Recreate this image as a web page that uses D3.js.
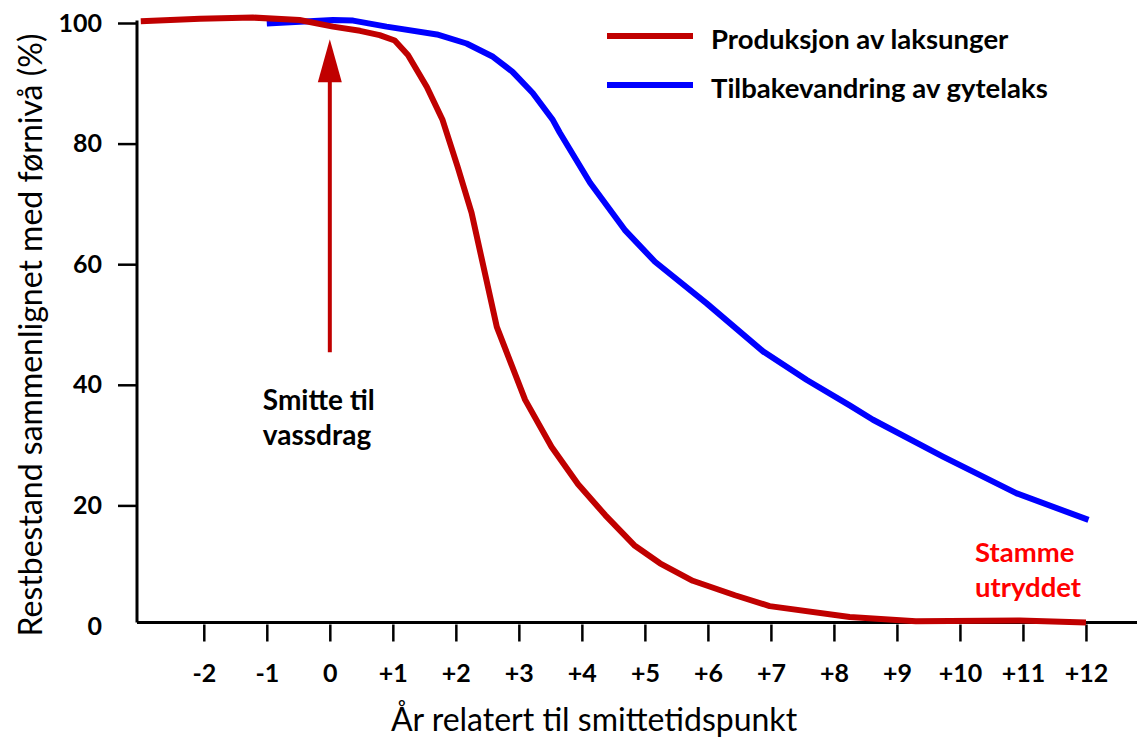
<!DOCTYPE html>
<html>
<head>
<meta charset="utf-8">
<script src="https://cdn.jsdelivr.net/npm/d3@7/dist/d3.min.js"></script>
<style>
  html, body { margin: 0; padding: 0; background: #fff; }
  svg { display: block; }
  text { font-family: Lato, "Open Sans", sans-serif; }
</style>
</head>
<body>
<svg id="chart" width="1137" height="740"></svg>
<script>
// ---- data ----
const redYears  = [-3.0, -2.06, -1.22, -0.48, 0.05, 0.48, 0.79, 1.03, 1.24, 1.54, 1.79, 2.03, 2.25, 2.65, 3.1, 3.52, 3.94, 4.37, 4.83, 5.24, 5.76, 6.43, 6.98, 8.25, 9.3, 10.95, 12.0];
const redValues = [100.3, 100.7, 100.9, 100.5, 99.4, 98.7, 98.0, 97.1, 94.7, 89.4, 83.9, 76.1, 68.5, 49.6, 37.5, 29.7, 23.5, 18.4, 13.4, 10.4, 7.5, 5.1, 3.3, 1.5, 0.8, 0.9, 0.6];

const blueYears  = [-1.0, 0.05, 0.37, 0.9, 1.7, 2.17, 2.59, 2.9, 3.22, 3.54, 3.65, 4.13, 4.68, 5.16, 5.98, 6.88, 7.57, 8.25, 8.62, 9.73, 10.9, 12.04];
const blueValues = [99.9, 100.5, 100.4, 99.4, 98.1, 96.6, 94.4, 91.9, 88.4, 83.9, 81.8, 73.5, 65.7, 60.4, 53.5, 45.5, 40.8, 36.6, 34.2, 28.1, 22.0, 17.6];

const xTickValues = [-2, -1, 0, 1, 2, 3, 4, 5, 6, 7, 8, 9, 10, 11, 12];
const xTickLabels = ["-2", "-1", "0", "+1", "+2", "+3", "+4", "+5", "+6", "+7", "+8", "+9", "+10", "+11", "+12"];
const yTickValues = [0, 20, 40, 60, 80, 100];

const seriesNames = ["Produksjon av laksunger", "Tilbakevandring av gytelaks"];
const seriesColors = ["#c00000", "#0000ff"];

const arrowYear = 0;          // infection time
const arrowFrom = 45.4;       // arrow tail (value)
const arrowTo = 97.3;         // arrow tip (value)
const infectionLabel = ["Smitte til", "vassdrag"];
const extinctLabel = ["Stamme", "utryddet"];
const xTitle = "År relatert til smittetidspunkt";
const yTitle = "Restbestand sammenlignet med førnivå (%)";

// ---- scales ----
const svg = d3.select("#chart");
const x = d3.scaleLinear().domain([-3.06, 12.81]).range([137, 1137]);
const y = d3.scaleLinear().domain([0, 100]).range([626, 23]);
const axisY = y(0) - 3.5;

// ---- axes ----
const xAxis = d3.axisBottom(x)
  .tickValues(xTickValues)
  .tickFormat((d, i) => xTickLabels[i])
  .tickSize(17)
  .tickSizeOuter(0)
  .tickPadding(23);
const gx = svg.append("g").attr("transform", `translate(0,${axisY + 2})`).call(xAxis);
gx.select(".domain").remove();
gx.selectAll(".tick line").attr("stroke", "#000").attr("stroke-width", 2.5);
gx.selectAll(".tick text").attr("font-size", 25).attr("font-weight", "bold").attr("fill", "#000");

const yAxis = d3.axisLeft(y)
  .tickValues(yTickValues)
  .tickSize(19)
  .tickSizeOuter(0)
  .tickPadding(16);
const gy = svg.append("g").attr("transform", `translate(137,0)`).call(yAxis);
gy.select(".domain").remove();
gy.selectAll(".tick line").attr("stroke", "#000").attr("stroke-width", 2.5)
  .filter(d => d === 0).remove();
gy.selectAll(".tick text").attr("font-size", 25).attr("font-weight", "bold").attr("fill", "#000");

// axis lines
svg.append("line").attr("x1", x.range()[0]).attr("x2", x.range()[1])
  .attr("y1", axisY).attr("y2", axisY).attr("stroke", "#000").attr("stroke-width", 3);
svg.append("line").attr("x1", 137).attr("x2", 137)
  .attr("y1", y(100) - 2.5).attr("y2", axisY).attr("stroke", "#000").attr("stroke-width", 3);

// ---- lines ----
const line = d3.line().x(d => x(d[0])).y(d => y(d[1]));
const redData = redYears.map((d, i) => [d, redValues[i]]);
const blueData = blueYears.map((d, i) => [d, blueValues[i]]);

svg.append("path").datum(blueData).attr("d", line)
  .attr("fill", "none").attr("stroke", seriesColors[1]).attr("stroke-width", 6)
  .attr("stroke-linejoin", "round");
svg.append("path").datum(redData).attr("d", line)
  .attr("fill", "none").attr("stroke", seriesColors[0]).attr("stroke-width", 6)
  .attr("stroke-linejoin", "round");

// ---- arrow ----
const ax = x(arrowYear);
const tipY = y(arrowTo);
const headLen = 43, headHalf = 12;
svg.append("line").attr("x1", ax).attr("x2", ax)
  .attr("y1", y(arrowFrom)).attr("y2", tipY + headLen - 2)
  .attr("stroke", "#c00000").attr("stroke-width", 4);
svg.append("path")
  .attr("d", `M${ax},${tipY} L${ax + headHalf},${tipY + headLen} L${ax - headHalf},${tipY + headLen} Z`)
  .attr("fill", "#c00000");

// ---- annotations ----
const infText = svg.append("text").attr("x", ax - 67).attr("y", y(arrowFrom) + 58)
  .attr("font-size", 28).attr("font-weight", "bold").attr("fill", "#000");
infectionLabel.forEach((t, i) => infText.append("tspan").attr("x", ax - 67).attr("dy", i === 0 ? 0 : 35).text(t));

const extText = svg.append("text").attr("x", 975).attr("y", 562)
  .attr("font-size", 27.5).attr("font-weight", "bold").attr("fill", "#ff0000");
extinctLabel.forEach((t, i) => extText.append("tspan").attr("x", 975).attr("dy", i === 0 ? 0 : 35).text(t));

// ---- legend ----
seriesNames.forEach((name, i) => {
  const ly = 36 + i * 49;
  svg.append("line").attr("x1", 607).attr("x2", 693).attr("y1", ly).attr("y2", ly)
    .attr("stroke", seriesColors[i]).attr("stroke-width", 6);
  svg.append("text").attr("x", 711).attr("y", ly + 3).attr("dy", "0.35em")
    .attr("font-size", 27.5).attr("font-weight", "bold").attr("fill", "#000").text(name);
});

// ---- titles ----
svg.append("text").attr("x", 594).attr("y", 731)
  .attr("text-anchor", "middle").attr("font-size", 32).attr("fill", "#000").text(xTitle);
svg.append("text").attr("transform", `translate(42,335) rotate(-90)`)
  .attr("text-anchor", "middle").attr("font-size", 32).attr("fill", "#000").text(yTitle);
</script>
</body>
</html>
